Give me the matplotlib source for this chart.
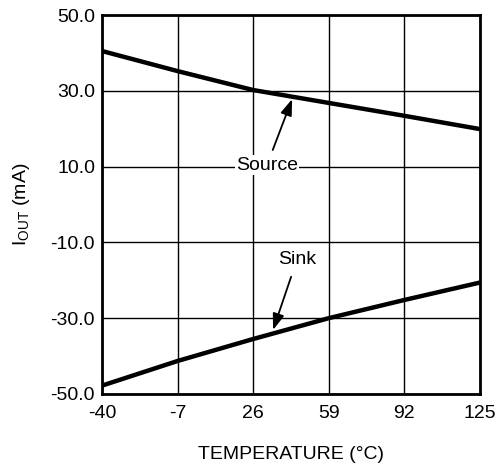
import matplotlib.pyplot as plt
import numpy as np

plt.rcParams['font.family'] = ['Liberation Sans', 'DejaVu Sans']

temps = [-40, -7, 26, 59, 92, 125]
source_ma = [40.5, 35.2, 30.2, 26.8, 23.4, 19.9]
sink_ma = [-47.8, -41.3, -35.5, -30.0, -25.2, -20.6]
y_ticks = [-50, -30, -10, 10, 30, 50]

fs = 14

fig = plt.figure(figsize=(4.96, 4.69), dpi=100)
ax = fig.add_axes([0.2056, 0.160, 0.762, 0.808])

ax.plot(temps, source_ma, color="k", lw=3.2, solid_capstyle="butt", zorder=3)
ax.plot(temps, sink_ma, color="k", lw=3.2, solid_capstyle="butt", zorder=3)

ax.set_xlim(-40, 125)
ax.set_ylim(-50, 50)
ax.set_xticks(temps, labels=[str(t) for t in temps])
ax.set_yticks(y_ticks, labels=["%.1f" % v for v in y_ticks])
ax.grid(True, color="k", lw=1.0)
ax.tick_params(axis="y", length=0, labelsize=fs, pad=5)
ax.tick_params(axis="x", length=0, labelsize=fs, pad=8)
for s in ax.spines.values():
    s.set_linewidth(2)
    s.set_zorder(4)

bbox = dict(facecolor="white", edgecolor="none", pad=1)
ax.annotate("Source", xy=(43, 27.8), xytext=(18.5, 10.4), fontsize=fs,
            ha="left", va="center", bbox=bbox, zorder=5,
            arrowprops=dict(arrowstyle="-|>,head_length=0.7,head_width=0.25",
                            color="k", lw=1.3, shrinkA=4, shrinkB=0,
                            mutation_scale=14))
ax.annotate("Sink", xy=(34.7, -33.1), xytext=(45.2, -14.4), fontsize=fs,
            ha="center", va="center", bbox=bbox, zorder=5,
            arrowprops=dict(arrowstyle="-|>,head_length=0.7,head_width=0.25",
                            color="k", lw=1.3, shrinkA=6, shrinkB=0,
                            mutation_scale=14))

ax.set_xlabel("TEMPERATURE (°C)", fontsize=fs, labelpad=17)
ax.set_ylabel(r"I$_{\mathregular{OUT}}$ (mA)", fontsize=fs, labelpad=13)

fig.savefig("out.png", dpi=100)
